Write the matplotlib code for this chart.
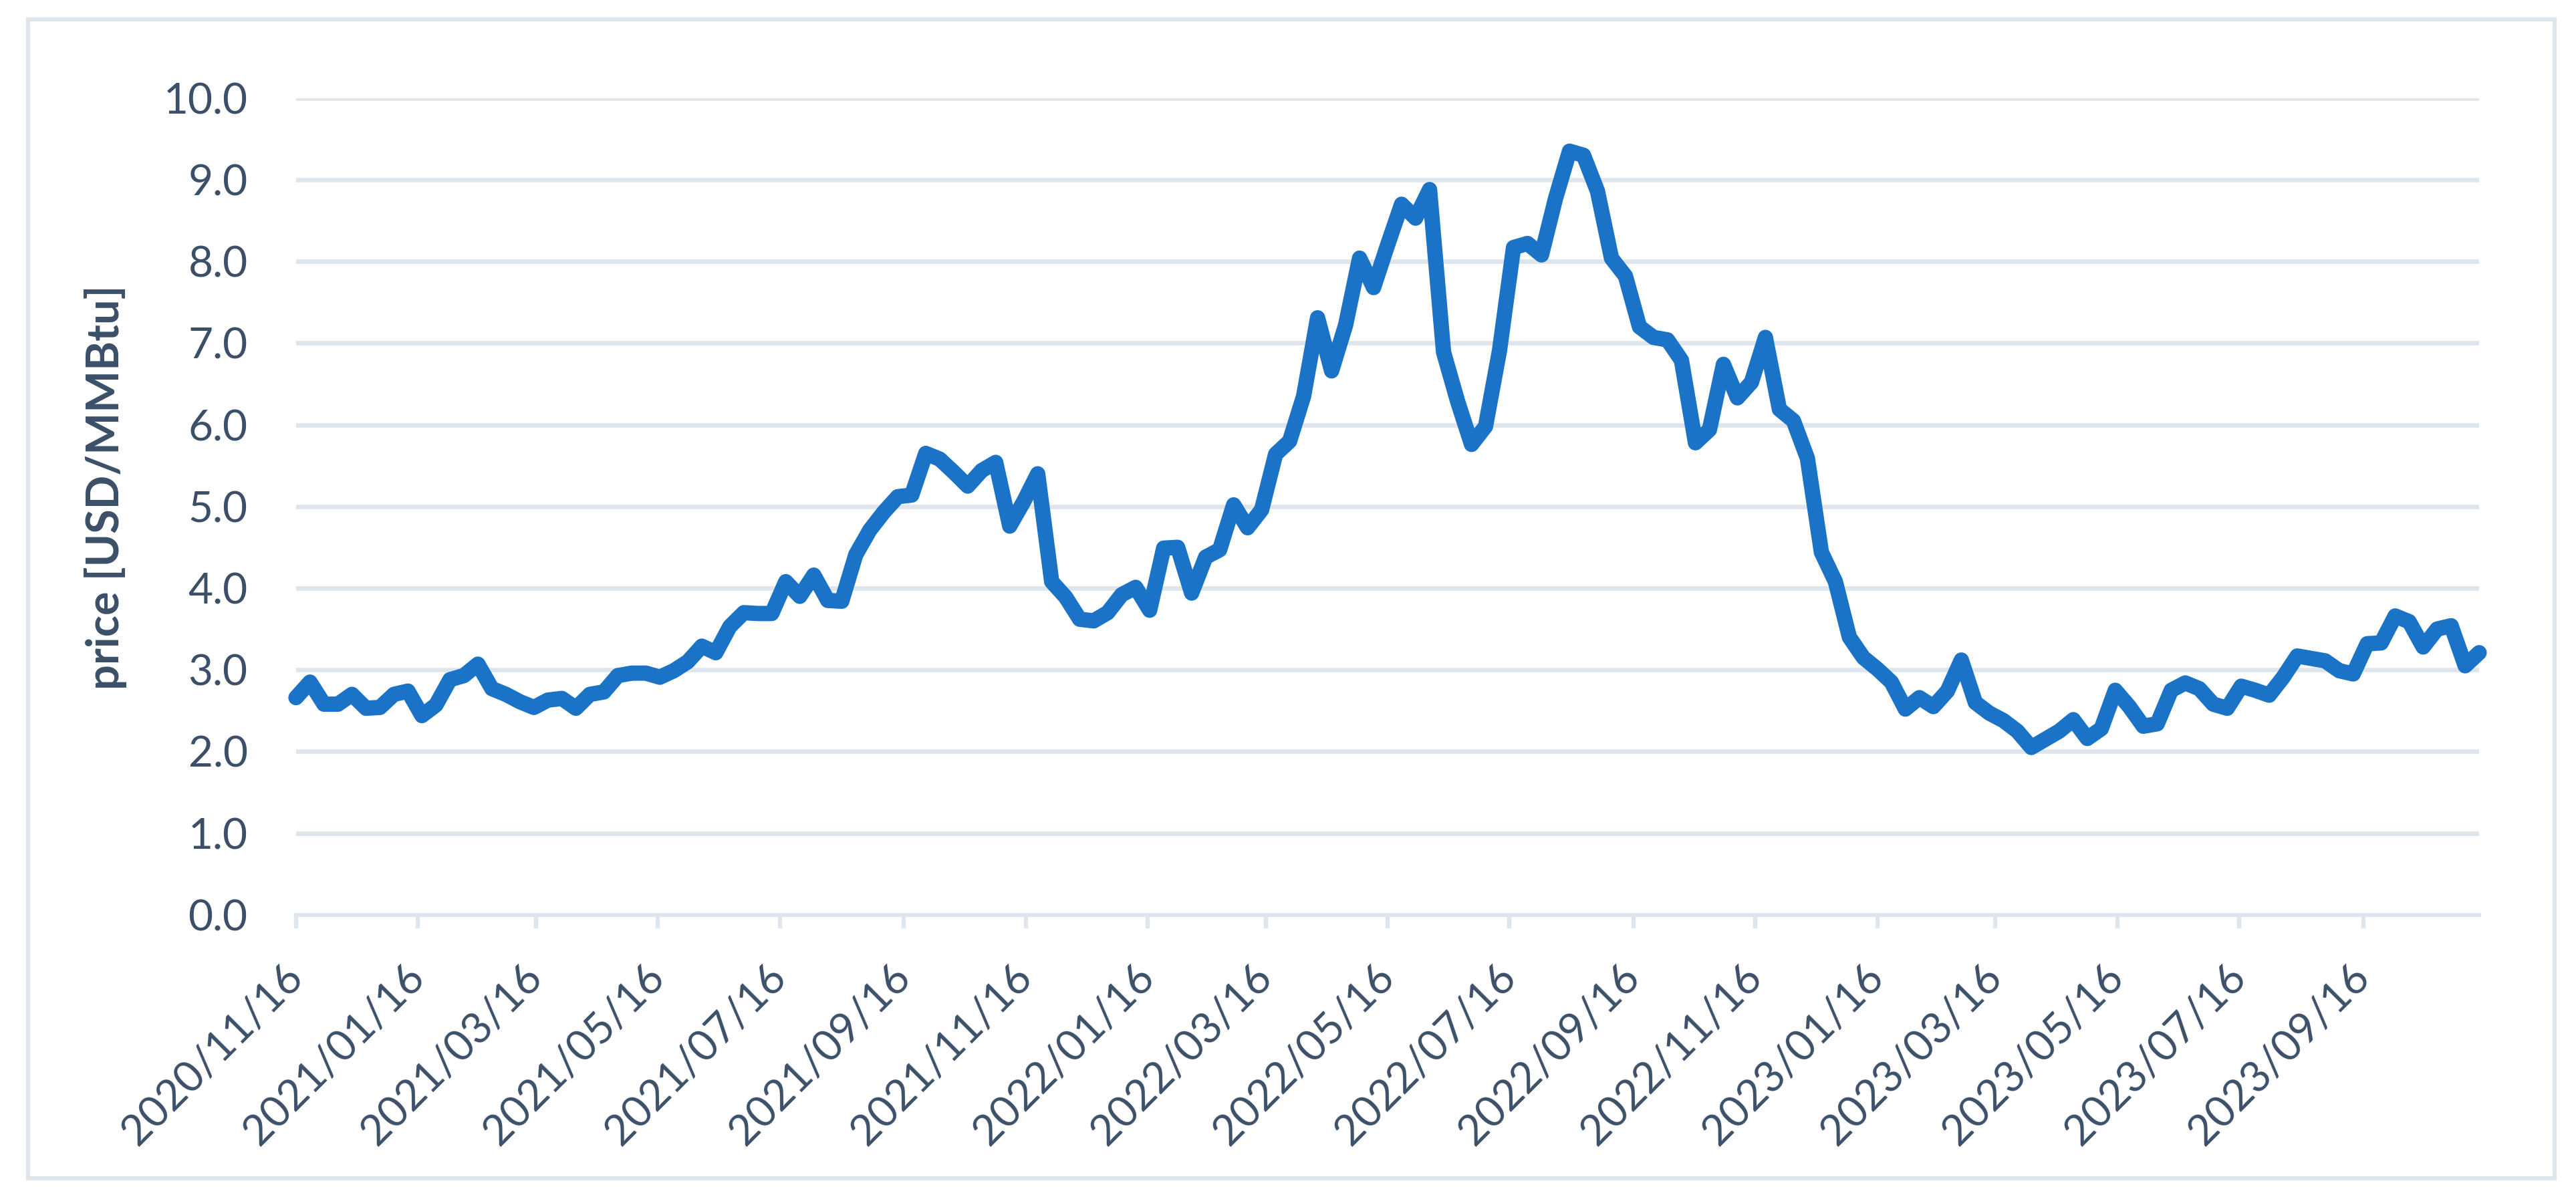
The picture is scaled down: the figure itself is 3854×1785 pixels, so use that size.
import numpy as np
import pandas as pd
import matplotlib
matplotlib.use('Agg')
import matplotlib.pyplot as plt
import matplotlib.dates as mdates
from matplotlib.patches import Rectangle

# weekly price, USD/MMBtu (Mondays from 2020/11/16)
start_date = '2020-11-16'
price = [
    2.66, 2.85, 2.58, 2.58, 2.70, 2.53, 2.54, 2.70, 2.74, 2.44,
    2.57, 2.88, 2.93, 3.07, 2.77, 2.70, 2.61, 2.54, 2.63, 2.65,
    2.53, 2.70, 2.73, 2.93, 2.96, 2.96, 2.91, 2.99, 3.10, 3.29,
    3.21, 3.53, 3.70, 3.69, 3.69, 4.08, 3.90, 4.16, 3.85, 3.84,
    4.41, 4.71, 4.93, 5.12, 5.14, 5.65, 5.58, 5.42, 5.25, 5.44,
    5.54, 4.76, 5.06, 5.40, 4.08, 3.89, 3.62, 3.60, 3.70, 3.92,
    4.01, 3.73, 4.49, 4.50, 3.94, 4.38, 4.47, 5.02, 4.74, 4.96,
    5.64, 5.80, 6.35, 7.31, 6.66, 7.22, 8.04, 7.68, 8.20, 8.70,
    8.53, 8.88, 6.89, 6.29, 5.76, 5.98, 6.91, 8.17, 8.22, 8.08,
    8.77, 9.35, 9.30, 8.86, 8.04, 7.82, 7.20, 7.07, 7.04, 6.79,
    5.78, 5.94, 6.74, 6.33, 6.52, 7.07, 6.19, 6.05, 5.59, 4.44,
    4.08, 3.40, 3.15, 3.01, 2.85, 2.52, 2.66, 2.55, 2.74, 3.12,
    2.60, 2.47, 2.38, 2.25, 2.05, 2.15, 2.25, 2.39, 2.16, 2.28,
    2.75, 2.55, 2.31, 2.34, 2.75, 2.84, 2.77, 2.58, 2.53, 2.80,
    2.75, 2.69, 2.91, 3.17, 3.14, 3.11, 2.99, 2.95, 3.32, 3.33,
    3.66, 3.59, 3.28, 3.50, 3.54, 3.05, 3.21,
]
y_ticks = [0, 1, 2, 3, 4, 5, 6, 7, 8, 9, 10]
y_label = 'price [USD/MMBtu]'

dates = pd.date_range(start_date, periods=len(price), freq='7D')

text_col = '#3B5068'
grid_col = '#DEE5EC'
line_col = '#1A73C6'
fonts = ['Lato', 'DejaVu Sans']
plt.rcParams['font.family'] = fonts

fig = plt.figure(figsize=(38.54, 17.85), dpi=100)
ax = fig.add_axes([0.1149, 0.2331, 0.8475, 0.6847])

ax.plot(dates, price, color=line_col, lw=16.5, solid_joinstyle='round',
        solid_capstyle='round', clip_on=False, zorder=3)

ax.set_ylim(0, 10)
ax.set_yticks(y_ticks)
ax.set_yticklabels([f'{v:.1f}' for v in y_ticks])
ax.set_xlim(dates[0], dates[-1])
ax.xaxis.set_major_locator(mdates.MonthLocator(bymonth=[1, 3, 5, 7, 9, 11], bymonthday=16))
ax.xaxis.set_major_formatter(mdates.DateFormatter('%Y/%m/%d'))

ax.grid(axis='y', color=grid_col, lw=4.8)
ax.set_axisbelow(True)
for s in ['top', 'right', 'left']:
    ax.spines[s].set_visible(False)
ax.spines['bottom'].set_color(grid_col)
ax.spines['bottom'].set_linewidth(4.4)

ax.tick_params(axis='y', length=0, pad=52, labelsize=46, labelcolor=text_col)
ax.tick_params(axis='x', direction='out', length=14.4, width=4.6, color=grid_col,
               pad=46, labelsize=46, labelcolor=text_col)
for lab in ax.get_xticklabels():
    lab.set_rotation(45)
    lab.set_ha('right')
    lab.set_va('center')
    lab.set_rotation_mode('anchor')

fig.text(0.041, 0.5916, y_label, rotation=90, ha='center', va='center',
         fontsize=48, fontweight='bold', color=text_col)

# chart area border
fig.patches.append(Rectangle((42 / 3854, 1 - 1763 / 1785), 3780 / 3854, 1734 / 1785,
                             transform=fig.transFigure, fill=False,
                             edgecolor=grid_col, lw=4.4))

fig.savefig('out.png', dpi=100)
